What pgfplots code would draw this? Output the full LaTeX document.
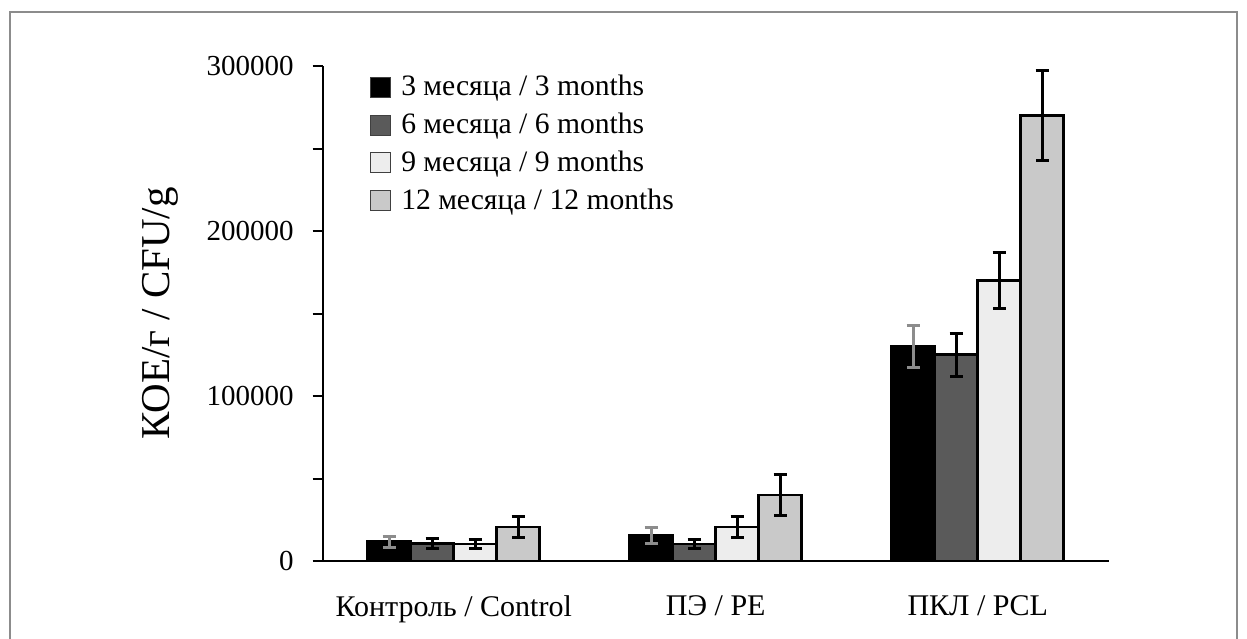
\documentclass[border=0pt]{standalone}
\usepackage{fontspec}
\setmainfont{Liberation Serif}
\usepackage{pgfplots}
\usepackage{pgfplotstable}
\pgfplotsset{compat=1.18}
\definecolor{cthree}{HTML}{000000}
\definecolor{csix}{HTML}{5A5A5A}
\definecolor{cnine}{HTML}{EDEDED}
\definecolor{ctwelve}{HTML}{C9C9C9}
\definecolor{errgray}{HTML}{8C8C8C}

\pgfplotstableread{
x y e
0 11700 3400
1 15500 4800
2 130000 13000
}\tthree
\pgfplotstableread{
x y e
0 10500 3000
1 10300 3000
2 125000 13000
}\tsix
\pgfplotstableread{
x y e
0 10300 3000
1 20500 6200
2 170000 17000
}\tnine
\pgfplotstableread{
x y e
0 20500 6200
1 40000 12400
2 270000 27000
}\ttwelve

\begin{document}
\begin{tikzpicture}[font=\fontsize{15}{17}\selectfont]
\useasboundingbox (0,0) rectangle (623.5pt,319pt);
\draw[line width=0.9pt, color=black!45] (5pt,-1pt) -- (5pt,313pt) -- (618.5pt,313pt) -- (618.5pt,-1pt);
\begin{axis}[
  at={(161.35pt,38.5pt)}, anchor=south west,
  scale only axis, width=393pt, height=247.5pt,
  xmin=-0.5, xmax=2.5, ymin=0, ymax=300000,
  axis x line*=bottom, axis y line*=left,
  axis line style={line width=1pt, -},
  ybar=0pt, bar width=0.164,
  scaled y ticks=false,
  xtick={0,1,2},
  xticklabels={Контроль / Control, ПЭ / PE, ПКЛ / PCL},
  x tick style={draw=none},
  xticklabel style={yshift=-9pt},
  ytick={0,100000,200000,300000},
  yticklabels={0,100000,200000,300000},
  minor ytick={50000,150000,250000},
  tick align=outside,
  major tick length=5pt, minor tick length=5pt,
  y tick style={line width=1pt, black},
  yticklabel style={xshift=-6pt, font=\fontsize{14.5}{17}\selectfont},
  ylabel={КОЕ/г / CFU/g},
  ylabel style={at={(axis description cs:-0.207,0.5)}, anchor=center, font=\fontsize{20.5}{22}\selectfont},
  legend image code/.code={\draw[#1, line width=0.5pt, draw=black!75] (0pt,-5pt) rectangle (10pt,5pt);},
  legend cell align=left,
  legend style={at={(axis description cs:0.06,0.99)}, anchor=north west,
    draw=none, fill=none, inner sep=0pt, row sep=3.2pt,
    font=\fontsize{14.8}{17}\selectfont,
    /tikz/every odd column/.append style={column sep=3pt}},
]
\addplot[fill=cthree, draw=black, line width=1.3pt, bar shift=-0.246,
  error bars/.cd, y dir=both, y explicit,
  error bar style={line width=1.5pt, errgray},
  error mark options={rotate=90, line width=1.5pt, errgray, mark size=3.3pt}]
  table[x=x, y=y, y error=e]{\tthree};
\addlegendentry{3 месяца / 3 months}
\addplot[fill=csix, draw=black, line width=1.3pt, bar shift=-0.082,
  error bars/.cd, y dir=both, y explicit,
  error bar style={line width=1.5pt, black},
  error mark options={rotate=90, line width=1.5pt, black, mark size=3.3pt}]
  table[x=x, y=y, y error=e]{\tsix};
\addlegendentry{6 месяца / 6 months}
\addplot[fill=cnine, draw=black, line width=1.3pt, bar shift=0.082,
  error bars/.cd, y dir=both, y explicit,
  error bar style={line width=1.5pt, black},
  error mark options={rotate=90, line width=1.5pt, black, mark size=3.3pt}]
  table[x=x, y=y, y error=e]{\tnine};
\addlegendentry{9 месяца / 9 months}
\addplot[fill=ctwelve, draw=black, line width=1.3pt, bar shift=0.246,
  error bars/.cd, y dir=both, y explicit,
  error bar style={line width=1.5pt, black},
  error mark options={rotate=90, line width=1.5pt, black, mark size=3.3pt}]
  table[x=x, y=y, y error=e]{\ttwelve};
\addlegendentry{12 месяца / 12 months}
\end{axis}
\end{tikzpicture}
\end{document}
